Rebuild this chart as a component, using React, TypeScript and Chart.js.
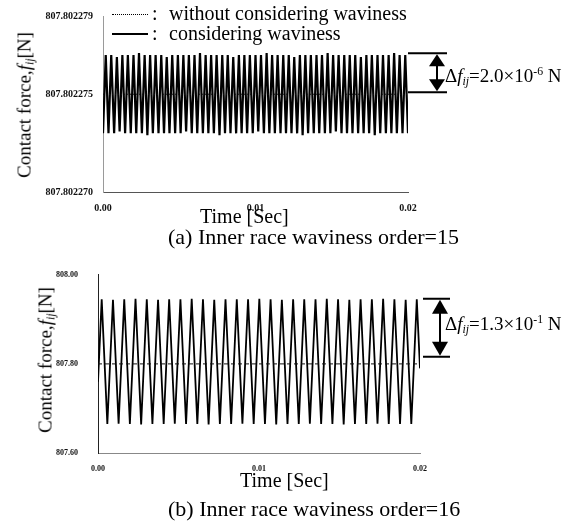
import React, { useEffect, useRef } from "react";
import { Chart, registerables } from "chart.js";

Chart.register(...registerables);

const SERIF = '"Liberation Serif", "Times New Roman", Times, serif';

// ---------- (a) inner race waviness order = 15 ----------
const timeTicksA = [0, 0.01, 0.02];
const forceTicksA = [807.80227, 807.802275, 807.802279];
const forceMinA = 807.80227;
const forceMaxA = 807.802279;
const noWavinessA = 807.802275;
const deltaMantissaA = 2.0;
const deltaExponentA = -6;

// turning points of the contact force trace (times in ms)
const peakTimesA = [
  0.18, 0.54, 0.91, 1.27, 1.63, 2.0, 2.36, 2.73, 3.09, 3.45,
  3.82, 4.18, 4.54, 4.91, 5.27, 5.63, 6.0, 6.36, 6.73, 7.09,
  7.45, 7.82, 8.18, 8.54, 8.91, 9.27, 9.63, 10.0, 10.36, 10.73,
  11.09, 11.45, 11.82, 12.18, 12.54, 12.91, 13.27, 13.63, 14.0, 14.36,
  14.73, 15.09, 15.45, 15.82, 16.18, 16.54, 16.91, 17.27, 17.63, 18.0,
  18.36, 18.73, 19.09, 19.45, 19.82,
];
const peakForceA = [
  807.802277, 807.802277, 807.8022769, 807.802277, 807.802277, 807.802277, 807.8022771, 807.802277, 807.802277, 807.802277,
  807.802277, 807.8022769, 807.802277, 807.802277, 807.802277, 807.802277, 807.802277, 807.8022771, 807.802277, 807.802277,
  807.802277, 807.802277, 807.802277, 807.8022769, 807.802277, 807.802277, 807.802277, 807.802277, 807.802277, 807.8022771,
  807.802277, 807.802277, 807.802277, 807.802277, 807.8022769, 807.802277, 807.802277, 807.802277, 807.802277, 807.802277,
  807.8022771, 807.802277, 807.802277, 807.802277, 807.802277, 807.802277, 807.8022769, 807.802277, 807.802277, 807.802277,
  807.802277, 807.802277, 807.8022771, 807.802277, 807.802277,
];
const troughTimesA = [
  0.0, 0.36, 0.73, 1.09, 1.45, 1.82, 2.18, 2.55, 2.91, 3.27,
  3.64, 4.0, 4.36, 4.73, 5.09, 5.45, 5.82, 6.18, 6.55, 6.91,
  7.27, 7.64, 8.0, 8.36, 8.73, 9.09, 9.45, 9.82, 10.18, 10.55,
  10.91, 11.27, 11.64, 12.0, 12.36, 12.73, 13.09, 13.45, 13.82, 14.18,
  14.55, 14.91, 15.27, 15.64, 16.0, 16.36, 16.73, 17.09, 17.45, 17.82,
  18.18, 18.55, 18.91, 19.27, 19.64, 20.0,
];
const troughForceA = [
  807.802273, 807.802273, 807.802273, 807.8022731, 807.802273, 807.802273, 807.802273, 807.802273, 807.8022729, 807.802273,
  807.802273, 807.802273, 807.802273, 807.802273, 807.802273, 807.8022731, 807.802273, 807.802273, 807.802273, 807.802273,
  807.802273, 807.8022729, 807.802273, 807.802273, 807.802273, 807.802273, 807.802273, 807.802273, 807.8022731, 807.802273,
  807.802273, 807.802273, 807.802273, 807.802273, 807.802273, 807.802273, 807.8022729, 807.802273, 807.802273, 807.802273,
  807.802273, 807.802273, 807.8022731, 807.802273, 807.802273, 807.802273, 807.802273, 807.802273, 807.802273, 807.8022729,
  807.802273, 807.802273, 807.802273, 807.802273, 807.802273, 807.802273,
];

// ---------- (b) inner race waviness order = 16 ----------
const timeTicksB = [0, 0.01, 0.02];
const forceTicksB = [807.6, 807.8, 808.0];
const forceMinB = 807.6;
const forceMaxB = 808.0;
const noWavinessB = 807.8;
const deltaMantissaB = 1.3;
const deltaExponentB = -1;

const peakTimesB = [
  0.23, 0.93, 1.63, 2.33, 3.03, 3.73, 4.42, 5.12, 5.82, 6.52,
  7.22, 7.92, 8.62, 9.32, 10.02, 10.72, 11.42, 12.12, 12.81, 13.51,
  14.21, 14.91, 15.61, 16.31, 17.01, 17.71, 18.41, 19.11, 19.8,
];
const peakForceB = [
  807.945, 807.944, 807.945, 807.946, 807.945, 807.944, 807.945, 807.945, 807.946, 807.945,
  807.944, 807.945, 807.945, 807.945, 807.946, 807.945, 807.944, 807.945, 807.945, 807.945,
  807.946, 807.945, 807.944, 807.945, 807.945, 807.946, 807.945, 807.944, 807.945,
];
// valleys of the trace; the first and last entries are where the trace starts and stops
const valleyTimesB = [
  0.0, 0.58, 1.28, 1.98, 2.68, 3.38, 4.08, 4.77, 5.47, 6.17,
  6.87, 7.57, 8.27, 8.97, 9.67, 10.37, 11.07, 11.77, 12.47, 13.16,
  13.86, 14.56, 15.26, 15.96, 16.66, 17.36, 18.06, 18.76, 19.46, 20.0,
];
const valleyForceB = [
  807.76, 807.665, 807.666, 807.665, 807.664, 807.665, 807.665, 807.666, 807.665, 807.665,
  807.664, 807.665, 807.665, 807.666, 807.665, 807.665, 807.664, 807.665, 807.665, 807.666,
  807.665, 807.665, 807.664, 807.665, 807.665, 807.666, 807.665, 807.665, 807.665, 807.79,
];

type Pt = { x: number; y: number };

function buildTrace(tA: number[], fA: number[], tB: number[], fB: number[]): Pt[] {
  const pts: Pt[] = [
    ...tA.map((t, i) => ({ x: t / 1000, y: fA[i] })),
    ...tB.map((t, i) => ({ x: t / 1000, y: fB[i] })),
  ];
  pts.sort((a, b) => a.x - b.x);
  return pts;
}

// Draws the Δf bracket to the right of the plot: a pair of horizontal
// rules spanning `delta` below the `from` level and a double-headed arrow.
const deltaBracket = {
  id: "deltaBracket",
  afterDraw(chart: any, _args: any, opts: any) {
    if (!opts || opts.from === undefined) return;
    const { ctx, chartArea, scales } = chart;
    const yTop = scales.y.getPixelForValue(opts.from);
    const yBot = scales.y.getPixelForValue(opts.from - opts.delta);
    const x0 = chartArea.right + opts.lineStart;
    const x1 = chartArea.right + opts.lineEnd;
    const ax = chartArea.right + opts.arrowOffset;
    const hw = opts.headHalfWidth;
    const hl = opts.headLength;
    ctx.save();
    ctx.strokeStyle = "#000";
    ctx.fillStyle = "#000";
    ctx.lineWidth = 2;
    ctx.beginPath();
    ctx.moveTo(x0, yTop);
    ctx.lineTo(x1, yTop);
    ctx.moveTo(x0, yBot);
    ctx.lineTo(x1, yBot);
    ctx.moveTo(ax, yTop + hl - 1);
    ctx.lineTo(ax, yBot - hl + 1);
    ctx.stroke();
    ctx.beginPath();
    ctx.moveTo(ax, yTop + 1);
    ctx.lineTo(ax - hw, yTop + hl);
    ctx.lineTo(ax + hw, yTop + hl);
    ctx.closePath();
    ctx.fill();
    ctx.beginPath();
    ctx.moveTo(ax, yBot - 1);
    ctx.lineTo(ax - hw, yBot - hl);
    ctx.lineTo(ax + hw, yBot - hl);
    ctx.closePath();
    ctx.fill();
    ctx.restore();
  },
};

type PanelSpec = {
  trace: Pt[];
  base: number;
  baseDash: number[];
  traceWidth: number;
  timeTicks: number[];
  forceTicks: number[];
  forceMin: number;
  forceMax: number;
  forceDigits: number;
  delta: number;
  padding: { left: number; right: number; top: number; bottom: number };
  yAxisWidth: number;
  xAxisHeight: number;
  tickFontSize: number;
  yTickPad: number;
  xTickPad: number;
  yBorder: { color: string; width: number; dash: number[] };
  xBorder: { color: string; width: number; dash: number[] };
  bracket: { lineStart: number; lineEnd: number; arrowOffset: number; headHalfWidth: number; headLength: number };
};

function buildConfig(p: PanelSpec): any {
  return {
    type: "line",
    data: {
      datasets: [
        {
          label: "without considering waviness",
          data: [
            { x: 0, y: p.base },
            { x: 0.02, y: p.base },
          ],
          borderColor: "#111",
          borderWidth: 1,
          borderDash: p.baseDash,
          pointRadius: 0,
        },
        {
          label: "considering waviness",
          data: p.trace,
          borderColor: "#000",
          borderWidth: p.traceWidth,
          pointRadius: 0,
          tension: 0,
        },
      ],
    },
    options: {
      animation: false,
      responsive: false,
      maintainAspectRatio: false,
      events: [],
      layout: { padding: p.padding },
      plugins: {
        legend: { display: false },
        tooltip: { enabled: false },
        deltaBracket: { from: Math.max(...p.trace.map((d) => d.y)), delta: p.delta, ...p.bracket },
      },
      scales: {
        x: {
          type: "linear",
          min: 0,
          max: 0.02,
          afterBuildTicks: (axis: any) => {
            axis.ticks = p.timeTicks.map((value) => ({ value }));
          },
          afterFit: (axis: any) => {
            axis.height = p.xAxisHeight;
          },
          grid: { display: false, drawTicks: false },
          border: { display: true, ...p.xBorder },
          ticks: {
            autoSkip: false,
            maxRotation: 0,
            padding: p.xTickPad,
            color: "#111",
            font: { family: SERIF, size: p.tickFontSize, weight: "bold" },
            callback: (v: number) => Number(v).toFixed(2),
          },
        },
        y: {
          type: "linear",
          min: p.forceMin,
          max: p.forceMax,
          afterBuildTicks: (axis: any) => {
            axis.ticks = p.forceTicks.map((value) => ({ value }));
          },
          afterFit: (axis: any) => {
            axis.width = p.yAxisWidth;
          },
          grid: { display: false, drawTicks: false },
          border: { display: true, ...p.yBorder },
          ticks: {
            autoSkip: false,
            padding: p.yTickPad,
            color: "#111",
            font: { family: SERIF, size: p.tickFontSize, weight: "bold" },
            callback: (v: number) => Number(v).toFixed(p.forceDigits),
          },
        },
      },
    },
    plugins: [deltaBracket],
  };
}

function Panel({ spec, top, height }: { spec: PanelSpec; top: number; height: number }) {
  const ref = useRef<HTMLCanvasElement | null>(null);
  useEffect(() => {
    if (!ref.current) return;
    const chart = new Chart(ref.current, buildConfig(spec));
    return () => chart.destroy();
  }, [spec]);
  return (
    <canvas
      ref={ref}
      width={574}
      height={height}
      style={{ position: "absolute", left: 0, top, width: 574, height }}
    />
  );
}

const specA: PanelSpec = {
  trace: buildTrace(peakTimesA, peakForceA, troughTimesA, troughForceA),
  base: noWavinessA,
  baseDash: [1, 2],
  traceWidth: 2.2,
  timeTicks: timeTicksA,
  forceTicks: forceTicksA,
  forceMin: forceMinA,
  forceMax: forceMaxA,
  forceDigits: 6,
  delta: deltaMantissaA * Math.pow(10, deltaExponentA),
  padding: { left: 0, right: 166, top: 14, bottom: 4 },
  yAxisWidth: 103,
  xAxisHeight: 20,
  tickFontSize: 10,
  yTickPad: 10,
  xTickPad: 10,
  yBorder: { color: "#9a9a9a", width: 1, dash: [1, 2] },
  xBorder: { color: "#555", width: 1, dash: [12, 3] },
  bracket: { lineStart: 0, lineEnd: 39, arrowOffset: 29, headHalfWidth: 8, headLength: 13 },
};

const specB: PanelSpec = {
  trace: buildTrace(peakTimesB, peakForceB, valleyTimesB, valleyForceB),
  base: noWavinessB,
  baseDash: [4, 3],
  traceWidth: 1.8,
  timeTicks: timeTicksB,
  forceTicks: forceTicksB,
  forceMin: forceMinB,
  forceMax: forceMaxB,
  forceDigits: 2,
  delta: deltaMantissaB * Math.pow(10, deltaExponentB),
  padding: { left: 0, right: 154, top: 24, bottom: 7 },
  yAxisWidth: 98,
  xAxisHeight: 20,
  tickFontSize: 8,
  yTickPad: 20,
  xTickPad: 11,
  yBorder: { color: "#222", width: 1, dash: [] },
  xBorder: { color: "#888", width: 1, dash: [2, 3] },
  bracket: { lineStart: 3, lineEnd: 30, arrowOffset: 20, headHalfWidth: 8, headLength: 15 },
};

function Text({ left, top, size, children }: { left: number; top: number; size: number; children: React.ReactNode }) {
  return (
    <div style={{ position: "absolute", left, top, fontSize: size, lineHeight: 1, whiteSpace: "nowrap" }}>
      {children}
    </div>
  );
}

const subStyle: React.CSSProperties = { fontSize: "0.62em", verticalAlign: "-0.25em", lineHeight: 0 };
const supStyle: React.CSSProperties = { fontSize: "0.62em", verticalAlign: "0.6em", lineHeight: 0 };

function ForceTitle({ cx, cy }: { cx: number; cy: number }) {
  return (
    <div
      style={{
        position: "absolute",
        left: cx,
        top: cy,
        fontSize: 19,
        lineHeight: 1,
        whiteSpace: "nowrap",
        transform: "translate(-50%, -50%) rotate(-90deg)",
      }}
    >
      Contact force,<i>f</i>
      <span style={subStyle}>
        <i>ij</i>
      </span>
      [N]
    </div>
  );
}

function DeltaLabel({ left, top, mantissa, exponent }: { left: number; top: number; mantissa: number; exponent: number }) {
  return (
    <Text left={left} top={top} size={19}>
      Δ<i>f</i>
      <span style={subStyle}>
        <i>ij</i>
      </span>
      ={mantissa.toFixed(1)}×10<span style={supStyle}>{String(exponent)}</span> N
    </Text>
  );
}

export default function App() {
  return (
    <div
      style={{
        position: "absolute",
        left: 0,
        top: 0,
        width: 574,
        height: 522,
        background: "#fff",
        color: "#000",
        fontFamily: SERIF,
        overflow: "hidden",
      }}
    >
      <Panel spec={specA} top={0} height={216} />
      <Panel spec={specB} top={250} height={230} />

      {/* legend */}
      <div style={{ position: "absolute", left: 112, top: 14, width: 36, borderTop: "1.5px dotted #000" }} />
      <div style={{ position: "absolute", left: 112, top: 33, width: 36, height: 2, background: "#000" }} />
      <Text left={152} top={3} size={20}>:</Text>
      <Text left={169} top={3} size={20}>without considering waviness</Text>
      <Text left={152} top={23} size={20}>:</Text>
      <Text left={169} top={23} size={20}>considering waviness</Text>

      <ForceTitle cx={24} cy={105} />
      <ForceTitle cx={45} cy={360} />

      <DeltaLabel left={445} top={66} mantissa={deltaMantissaA} exponent={deltaExponentA} />
      <DeltaLabel left={445} top={314} mantissa={deltaMantissaB} exponent={deltaExponentB} />

      <Text left={200} top={206} size={20}>Time [Sec]</Text>
      <Text left={240} top={470} size={20}>Time [Sec]</Text>

      <Text left={168} top={226} size={22}>(a) Inner race waviness order=15</Text>
      <Text left={168} top={498} size={22}>(b) Inner race waviness order=16</Text>
    </div>
  );
}
